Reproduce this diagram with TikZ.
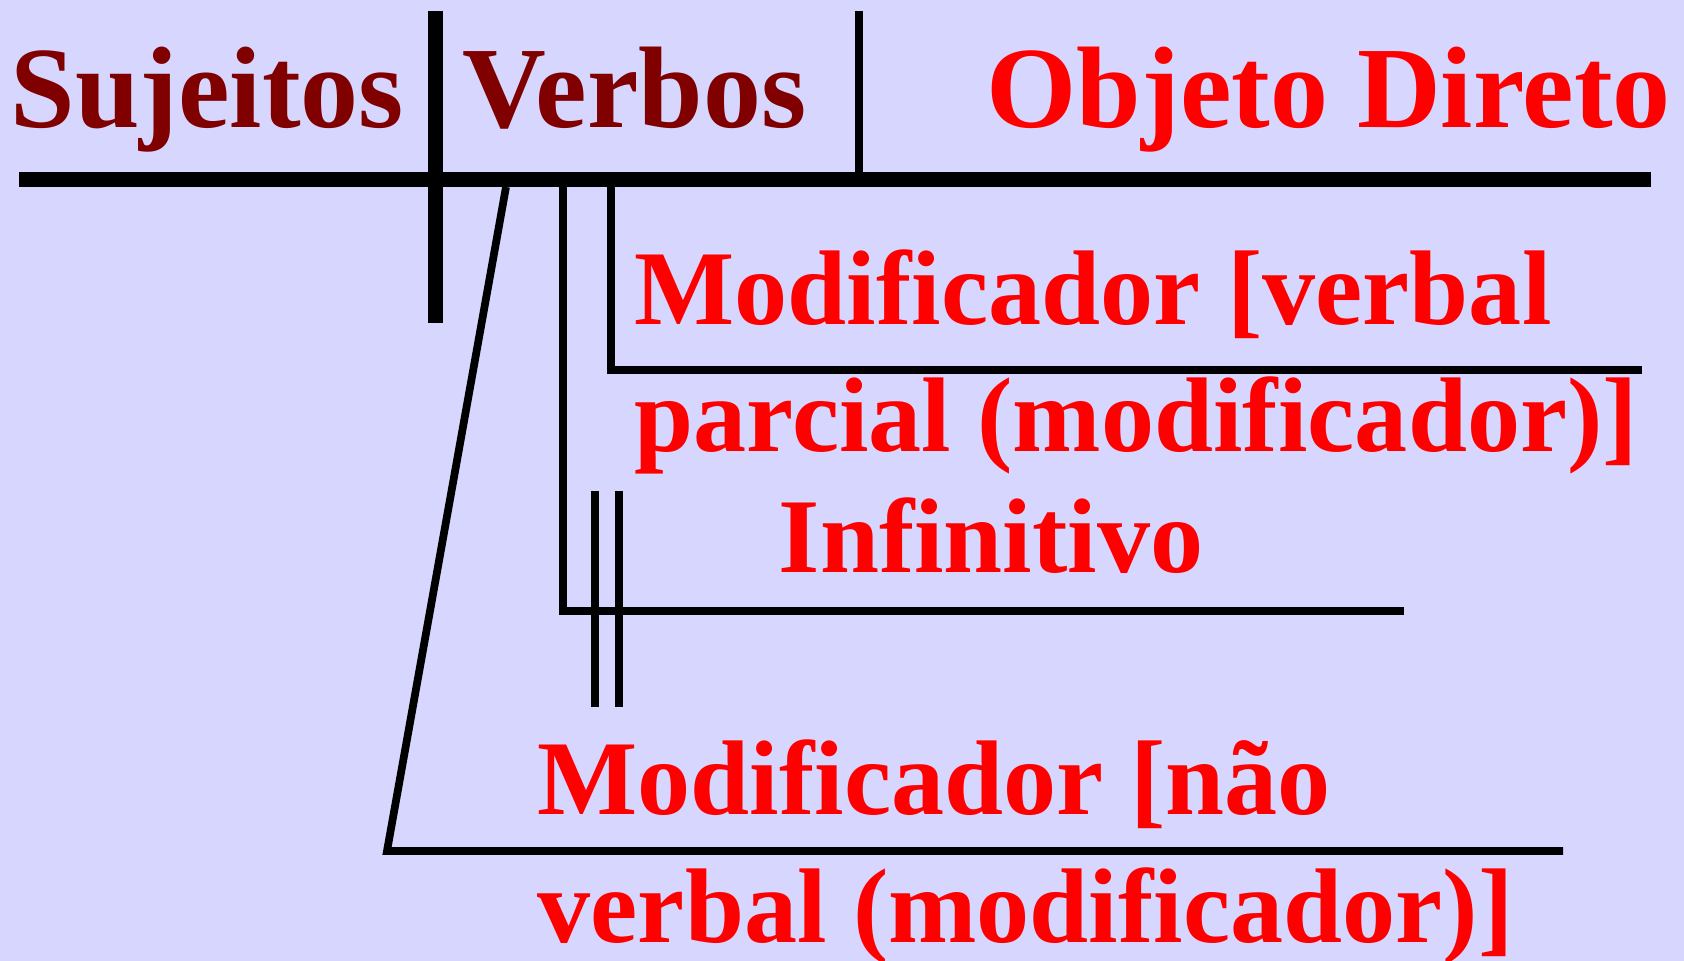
\documentclass[tikz,border=0pt]{standalone}
\usepackage{fontspec}
\setmainfont{Liberation Serif}
\usepackage{tikz}
\definecolor{lavender}{RGB}{214,214,255}
\definecolor{darkred}{RGB}{128,0,0}

\begin{document}
\begin{tikzpicture}[x=0.1mm, y=-0.1mm,
	head/.style={anchor=base west, inner sep=0, font=\fontsize{33}{40}\selectfont\bfseries},
	word/.style={anchor=base west, inner sep=0, text=red, font=\fontsize{30.2}{36}\selectfont\bfseries},
	mainrule/.style={line width=4.3pt},
	subrule/.style={line width=2.2pt}]
	\fill[lavender] (0,0) rectangle (1684,961);
	\useasboundingbox (0,0) rectangle (1684,961);
	% main line
	\draw[mainrule] (19,179.5) -- (1651,179.5);
	\draw[mainrule] (435.5,11) -- (435.5,323);
	\draw[line width=2.3pt] (859,11) -- (859,179.5);
	% modifiers
	\draw[subrule] (611,187) -- (611,370) -- (1642,370);
	\draw[subrule] (563,187) -- (563,611) -- (1404,611);
	\draw[subrule] (595,491) -- (595,707);
	\draw[subrule] (619,491) -- (619,707);
	\draw[subrule] (506,187) -- (387,851) -- (1563,851);
	% words
	\node[head, text=darkred] (suj) at (10,128) {Sujeitos};
	\node[head, text=darkred] (verb) at (462,128) {Verbos};
	\node[head, text=red] (obj) at (986,128) {Objeto Direto};
	\node[word] (modv1) at (634,325) {Modificador [verbal};
	\node[word] (modv2) at (634,452) {parcial (modificador)]};
	\node[word] (inf) at (778,573) {Infinitivo};
	\node[word] (modn1) at (537,814) {Modificador [não};
	\node[word] (modn2) at (537,942) {verbal (modificador)]};
\end{tikzpicture}
\end{document}
